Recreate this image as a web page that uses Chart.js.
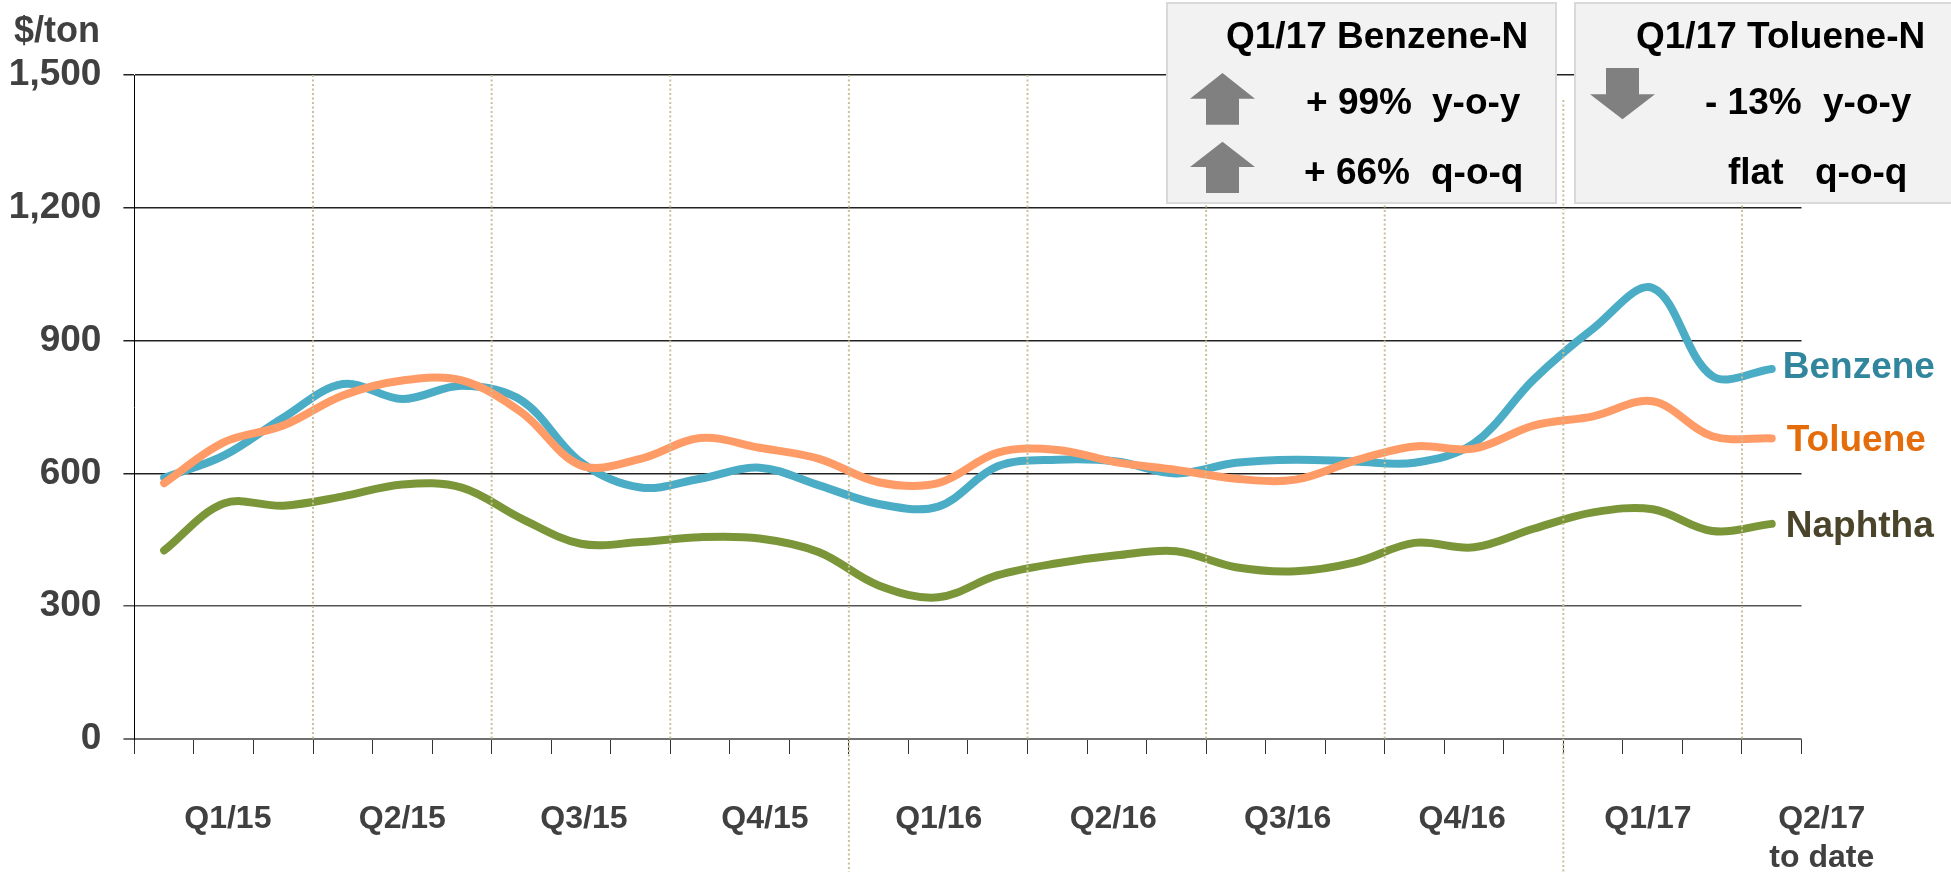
<!DOCTYPE html>
<html><head><meta charset="utf-8">
<script src="https://cdn.jsdelivr.net/npm/chart.js@4"></script>
<style>html,body{margin:0;padding:0;background:#fff}canvas{display:block}</style>
</head><body>
<canvas id="c" width="1951" height="872"></canvas>
<script>
const months = ['Jan 15','Feb 15','Mar 15','Apr 15','May 15','Jun 15','Jul 15','Aug 15','Sep 15','Oct 15','Nov 15','Dec 15',
  'Jan 16','Feb 16','Mar 16','Apr 16','May 16','Jun 16','Jul 16','Aug 16','Sep 16','Oct 16','Nov 16','Dec 16',
  'Jan 17','Feb 17','Mar 17','Apr 17'];
const benzene = [590,640,726,802,768,798,765,625,568,588,613,573,531,525,616,631,627,600,624,631,627,624,668,812,927,1019,820,836];
const toluene = [578,670,708,776,810,810,738,618,633,680,658,633,580,578,647,653,625,608,588,586,629,661,656,708,729,763,684,679];
const naphtha = [426,532,527,548,575,568,498,441,445,456,453,422,347,320,370,397,415,424,388,379,399,443,433,475,512,519,470,486];
const quarterLabels = ['Q1/15','Q2/15','Q3/15','Q4/15','Q1/16','Q2/16','Q3/16','Q4/16','Q1/17',['Q2/17','to date']];
const quarterPositions = [1.07,4,7.05,10.09,13.01,15.94,18.87,21.8,24.92,27.84];
const yTicks = [0,300,600,900,1200,1500];

const FONT = '"Liberation Sans", Arial, sans-serif';
const font = s => `bold ${s}px ${FONT}`;
const fixedSize = (h) => s => { s.height = h; s.paddingLeft = 0; s.paddingRight = 0; };

const decorations = {
  id: 'decorations',
  afterDatasetsDraw(chart) {
    const {ctx, scales:{x}, chartArea:a} = chart;
    ctx.save();
    ctx.strokeStyle = '#c9c098'; ctx.lineWidth = 2; ctx.setLineDash([2,2.5]);
    [1,2,3,4,5,6,7,8,9].forEach(q => {
      const px = x.getPixelForValue(3*q - 0.5);
      const top = q === 8 ? 100 : a.top;
      const bottom = (q === 4 || q === 8) ? 872 : a.bottom;
      ctx.beginPath(); ctx.moveTo(px, top); ctx.lineTo(px, bottom); ctx.stroke();
    });
    ctx.restore();
  },
  afterDraw(chart) {
    const {ctx, scales:{x}} = chart;
    const text = (t, px, py, size, color, align='left') => {
      ctx.font = font(size); ctx.fillStyle = color; ctx.textAlign = align; ctx.textBaseline = 'middle';
      ctx.fillText(t, px, py);
    };
    text('$/ton', 14, 32, 36, '#404040');
    // series labels
    const last = months.length - 1;
    text('Benzene', x.getPixelForValue(last) + 11, 368, 37, '#31859C');
    text('Toluene', x.getPixelForValue(last) + 15, 441, 37, '#E46C0A');
    text('Naphtha', x.getPixelForValue(last) + 14, 527, 37, '#4A452A');
    // panels
    const panel = (l, t, r, b) => {
      ctx.fillStyle = '#f2f2f2'; ctx.fillRect(l, t, r - l, b - t);
      ctx.strokeStyle = '#d9d9d9'; ctx.lineWidth = 2; ctx.strokeRect(l, t, r - l, b - t);
    };
    const arrow = (cx, tip, wing, end) => {
      ctx.fillStyle = '#808080'; ctx.beginPath();
      ctx.moveTo(cx, tip); ctx.lineTo(cx + 32.5, wing); ctx.lineTo(cx + 16.5, wing);
      ctx.lineTo(cx + 16.5, end); ctx.lineTo(cx - 16.5, end); ctx.lineTo(cx - 16.5, wing);
      ctx.lineTo(cx - 32.5, wing); ctx.closePath(); ctx.fill();
    };
    panel(1167, 3, 1556, 203);
    panel(1575, 3, 1952, 203);
    text('Q1/17 Benzene-N', 1226, 38, 37, '#000');
    text('+ 99%', 1306, 104, 37, '#000');
    text('y-o-y', 1432, 104, 37, '#000');
    text('+ 66%', 1304, 174, 37, '#000');
    text('q-o-q', 1431, 174, 37, '#000');
    arrow(1222.5, 73, 98.7, 124.7);
    arrow(1222.5, 141.7, 167, 193);
    text('Q1/17 Toluene-N', 1636, 38, 37, '#000');
    text('- 13%', 1705, 104, 37, '#000');
    text('y-o-y', 1823, 104, 37, '#000');
    text('flat', 1728, 174, 37, '#000');
    text('q-o-q', 1815, 174, 37, '#000');
    arrow(1622.5, 119.3, 94.3, 68);
  }
};

const line = (label, data, color, order) => ({label, data, borderColor: color, backgroundColor: color,
  borderWidth: 8, tension: 0.35, pointRadius: 0, borderCapStyle: 'round', borderJoinStyle: 'round', order, clip: false});

new Chart(document.getElementById('c'), {
  type: 'line',
  plugins: [decorations],
  data: { labels: months, datasets: [
    line('Toluene', toluene, '#FF9B66', 1),
    line('Benzene', benzene, '#4BACC6', 2),
    line('Naphtha', naphtha, '#7A9639', 3)
  ]},
  options: {
    responsive: false, animation: false, devicePixelRatio: 1,
    layout: { padding: { left: 0, top: 75, right: 149.5, bottom: 0 } },
    plugins: { legend: {display:false}, tooltip: {enabled:false}, title:{display:false} },
    scales: {
      x: {
        type: 'category', offset: true, position: 'bottom', weight: 0,
        border: {display:false},
        grid: {offset:true, drawOnChartArea:false, drawTicks:true, tickLength:15, color:'#333', lineWidth:1},
        ticks: {display:false},
        afterFit: fixedSize(15)
      },
      xq: {
        type: 'linear', position: 'bottom', weight: 1, min: -0.5, max: 27.5,
        border: {display:false}, grid: {display:false},
        afterBuildTicks: s => { s.ticks = quarterPositions.map(value => ({value})); },
        ticks: {
          autoSkip:false, maxRotation:0, minRotation:0, padding: 38,
          color:'#404040', font:{family:FONT, weight:'bold', size:32, lineHeight:1.22},
          callback: (v, i) => quarterLabels[i]
        },
        afterFit: fixedSize(118)
      },
      y: {
        min: 0, max: 1500, position: 'left',
        afterBuildTicks: s => { s.ticks = yTicks.map(value => ({value})); },
        border: {display:true, color:'#000', width:1},
        grid: {
          drawTicks:true, tickLength:11,
          color: c => c.tick.value === 0 ? '#707070' : (c.tick.value === 300 ? '#555' : '#222'),
          lineWidth: c => c.tick.value === 0 ? 2 : 1.5
        },
        ticks: {
          padding: 22, color:'#404040', font:{family:FONT, weight:'bold', size:37},
          callback: v => v.toLocaleString('en-US')
        },
        afterFit: s => { s.width = 134.4; s.paddingTop = 0; s.paddingBottom = 0; }
      }
    }
  }
});
</script>
</body></html>
